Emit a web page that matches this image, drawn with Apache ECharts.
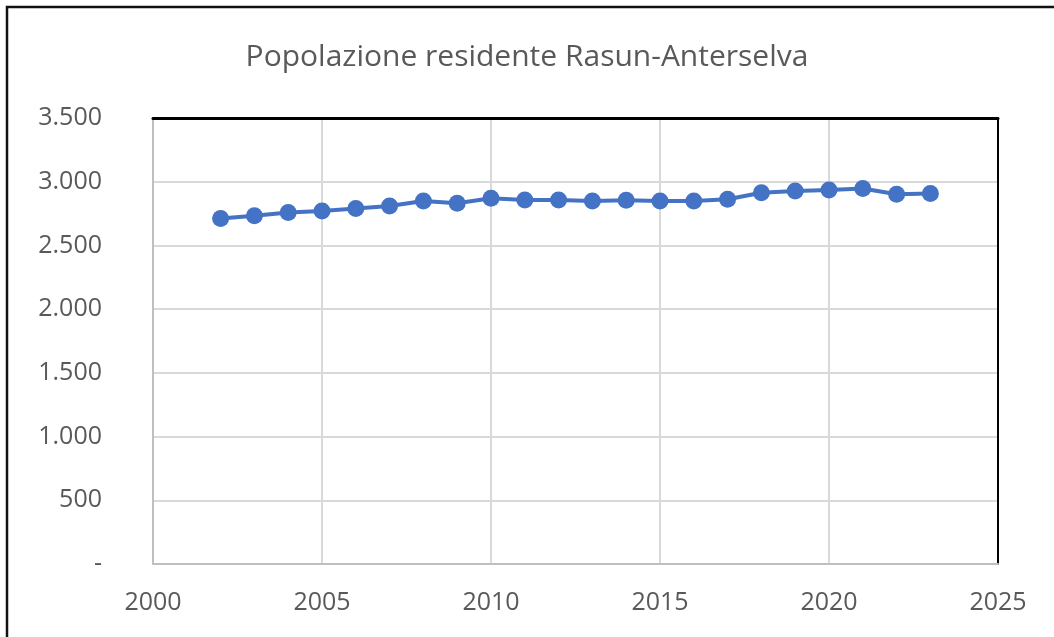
<!DOCTYPE html>
<html>
<head>
<meta charset="utf-8">
<script src="https://cdn.jsdelivr.net/npm/echarts@6/dist/echarts.min.js"></script>
<style>
  html, body { margin: 0; padding: 0; background: #fff; }
  #main { width: 1054px; height: 637px; }
</style>
</head>
<body>
<div id="main"></div>
<script>
// anni e popolazione residente
var anni = [2002, 2003, 2004, 2005, 2006, 2007, 2008, 2009, 2010, 2011, 2012,
            2013, 2014, 2015, 2016, 2017, 2018, 2019, 2020, 2021, 2022, 2023];
var popolazione = [2712, 2733, 2759, 2771, 2790, 2810, 2849, 2831, 2870, 2857, 2857,
                   2849, 2855, 2849, 2849, 2862, 2914, 2927, 2935, 2946, 2901, 2907];
var titolo = 'Popolazione residente Rasun-Anterselva';

var grey = '#595959';
var gridGrey = '#d9d9d9';
var font = 'Open Sans';

// separatore delle migliaia col punto, zero come trattino
function fmtY(v) {
    if (v === 0) return '-';
    return String(v).replace(/\B(?=(\d{3})+(?!\d))/g, '.');
}

var dati = [];
for (var i = 0; i < anni.length; i++) {
    dati.push([anni[i], popolazione[i]]);
}

var myChart = echarts.init(document.getElementById('main'));
myChart.setOption({
    backgroundColor: '#fff',
    animation: false,
    title: {
        text: titolo,
        left: 'center',
        top: 37,
        textStyle: { fontFamily: font, fontSize: 30, fontWeight: 'normal', color: grey }
    },
    graphic: [{
        type: 'rect',
        shape: { x: 7, y: 7, width: 1100, height: 700 },
        style: { fill: null, stroke: '#111', lineWidth: 2.5 }
    }],
    grid: { left: 153, right: 56, top: 118, bottom: 73 },
    xAxis: [{
        type: 'value',
        min: 2000, max: 2025, interval: 5,
        axisLine: { lineStyle: { color: '#bfbfbf', width: 2 } },
        axisTick: { show: false },
        axisLabel: { color: grey, fontFamily: font, fontSize: 25, margin: 26, formatter: function (v) { return String(v); } },
        splitLine: { lineStyle: { color: gridGrey, width: 2 } }
    }, {
        type: 'value', position: 'top',
        min: 2000, max: 2025, interval: 5,
        axisLine: { show: true, onZero: false, lineStyle: { color: '#000', width: 3 } },
        axisTick: { show: false }, axisLabel: { show: false }, splitLine: { show: false }
    }],
    yAxis: [{
        type: 'value',
        min: 0, max: 3500, interval: 500,
        axisLine: { show: true, lineStyle: { color: '#bfbfbf', width: 2 } },
        axisTick: { show: false },
        axisLabel: { color: grey, fontFamily: font, fontSize: 25, margin: 51, formatter: fmtY },
        splitLine: { lineStyle: { color: gridGrey, width: 2 } }
    }, {
        type: 'value', position: 'right',
        min: 0, max: 3500, interval: 500,
        axisLine: { show: true, onZero: false, lineStyle: { color: '#000', width: 2 } },
        axisTick: { show: false }, axisLabel: { show: false }, splitLine: { show: false }
    }],
    series: [{
        type: 'line',
        data: dati,
        symbol: 'circle',
        symbolSize: 17,
        lineStyle: { color: '#4472c4', width: 4 },
        itemStyle: { color: '#4472c4' }
    }]
});
</script>
</body>
</html>
